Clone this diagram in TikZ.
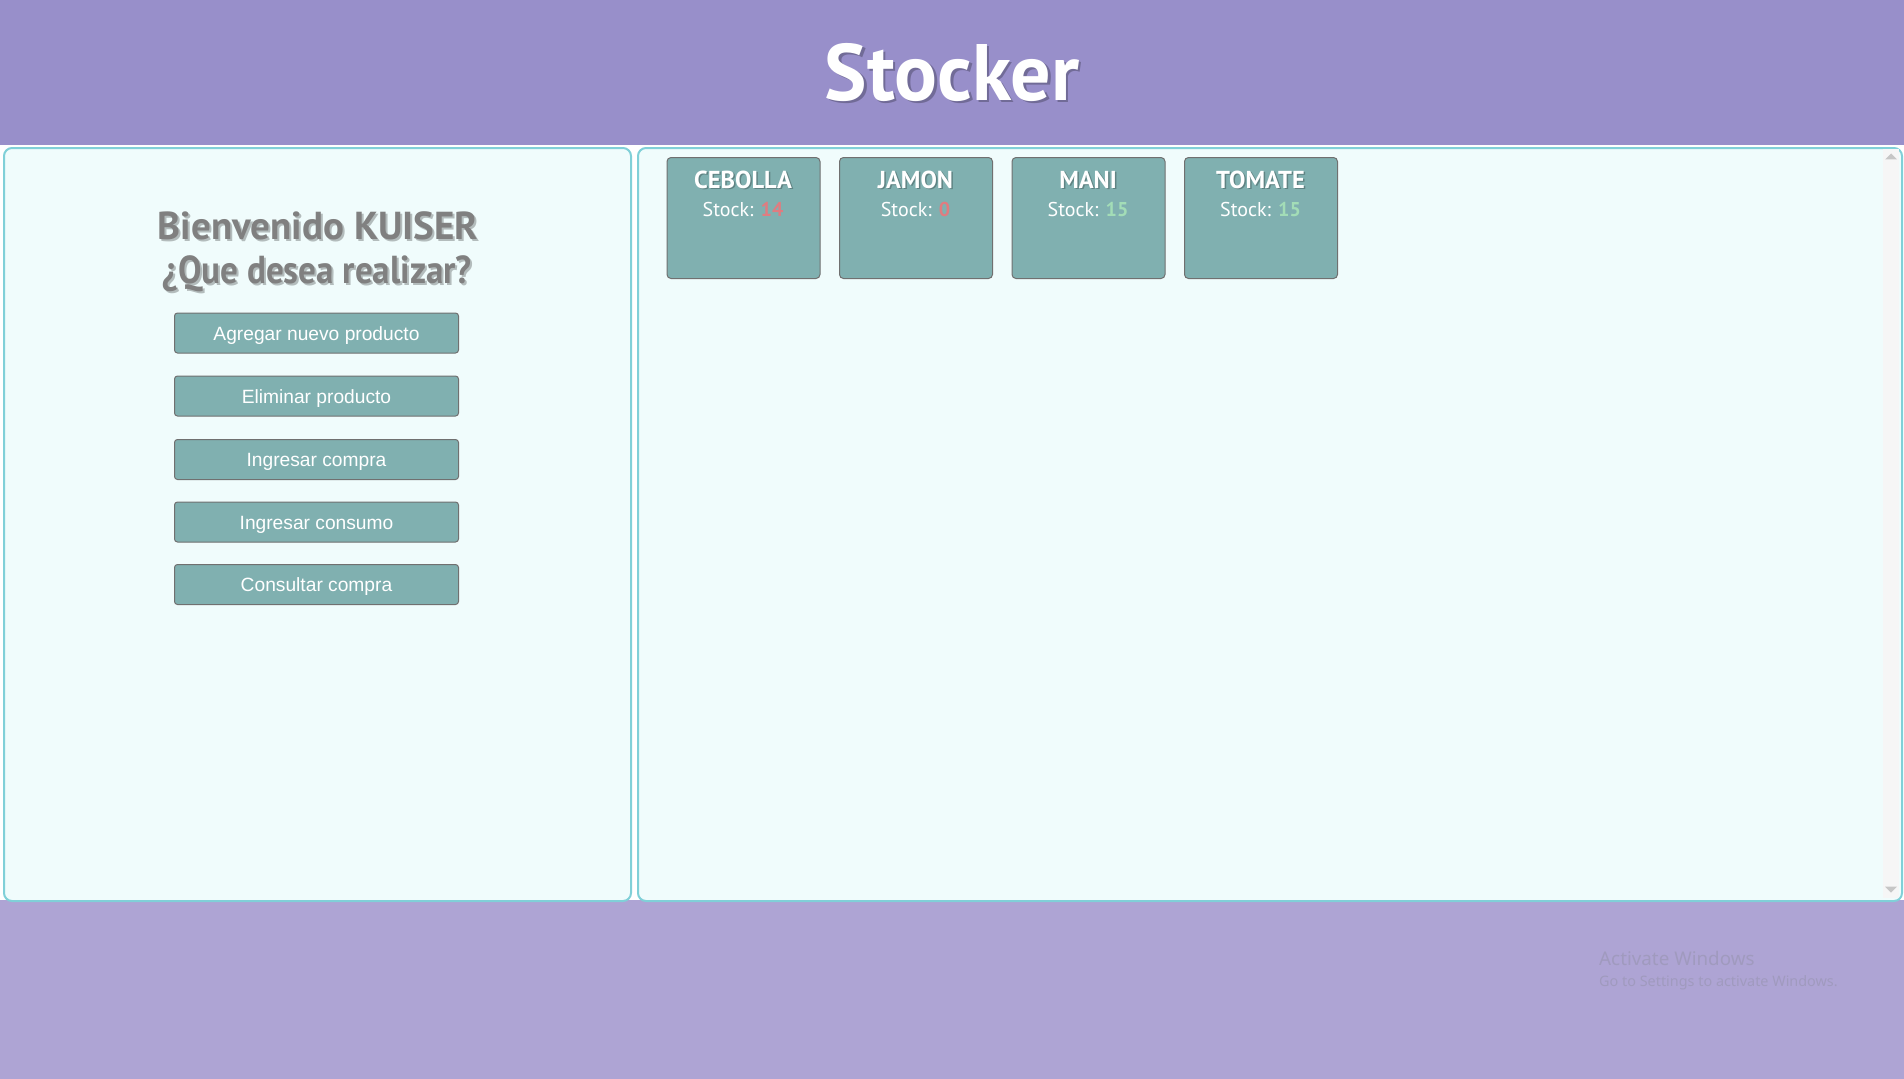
\documentclass[tikz,border=0pt]{standalone}
\usepackage{fontspec}
\setmainfont{Liberation Sans}
\newfontfamily\ptsans{PT Sans}
\newfontfamily\notos{Noto Sans}
\usetikzlibrary{shapes.geometric}
\definecolor{hdr}{RGB}{152,143,202}
\definecolor{bot}{RGB}{174,164,212}
\definecolor{panelfill}{RGB}{240,252,252}
\definecolor{panelline}{RGB}{128,208,216}
\definecolor{cardfill}{RGB}{128,176,176}
\definecolor{cardline}{RGB}{112,112,112}
\definecolor{numred}{RGB}{224,124,128}
\definecolor{numgreen}{RGB}{163,221,183}
\definecolor{greytext}{RGB}{128,128,128}
\definecolor{wmark}{RGB}{160,154,190}
\definecolor{track}{RGB}{246,246,246}
\begin{document}
\begin{tikzpicture}[x=1pt,y=-1pt,
  panel/.style={draw=panelline, line width=2pt, fill=panelfill, rounded corners=8pt, inner sep=0pt, anchor=north west},
  btn/.style={draw=cardline, line width=1pt, fill=cardfill, rounded corners=3pt, minimum width=284pt, minimum height=40pt, inner sep=0pt, text height=14pt, text depth=0pt, text=white, font=\fontsize{19.2}{22}\selectfont},
  card/.style={draw=cardline, line width=1pt, fill=cardfill, rounded corners=4pt, minimum width=153pt, minimum height=121pt, inner sep=0pt, anchor=north west},
  cardname/.style={anchor=base, inner sep=0pt, text=white, font=\ptsans\bfseries\fontsize{24.5}{28}\selectfont},
  cardstock/.style={anchor=base, inner sep=0pt, text=white, font=\ptsans\fontsize{20}{24}\selectfont},
  shade/.style={opacity=0.25, text=black},
  welcome/.style={anchor=base, inner sep=0pt, text=greytext, font=\ptsans\bfseries\fontsize{39}{44}\selectfont},
  arrowtri/.style={draw=none, fill=gray!45, isosceles triangle, isosceles triangle apex angle=90, minimum size=6pt, inner sep=0pt},
]
\useasboundingbox (0,0) rectangle (1904,1079);
\fill[hdr] (0,0) rectangle (1904,145);
\fill[white] (0,145) rectangle (1904,900);
\fill[bot] (0,900) rectangle (1904,1079);

% title
\node[anchor=base, inner sep=0pt, font=\ptsans\bfseries\fontsize{80}{84}\selectfont, shade] (titleS) at (954.5,102.5) {Stocker};
\node[anchor=base, inner sep=0pt, font=\ptsans\bfseries\fontsize{80}{84}\selectfont, text=white] (title) at (952,100) {Stocker};

% panels
\node[panel, minimum width=627pt, minimum height=753pt] (left) at (3,147) {};
\node[panel, minimum width=1264pt, minimum height=753pt] (right) at (637,147) {};
\fill[track] (1883,149) rectangle (1899,898);
\node[arrowtri, shape border rotate=90] (up) at (1891,157) {};
\node[arrowtri, shape border rotate=-90] (down) at (1891,889) {};

% welcome text
\node[welcome, shade] (w1S) at (320,241) {Bienvenido KUISER};
\node[welcome] (w1) at (318,239) {Bienvenido KUISER};
\node[welcome, shade] (w2S) at (319,285) {\scalebox{0.9}[1]{¿Que desea realizar?}};
\node[welcome] (w2) at (317,283) {\scalebox{0.9}[1]{¿Que desea realizar?}};

% buttons
\node[btn] (b1) at (316.5,333) {Agregar nuevo producto};
\node[btn] (b2) at (316.5,396) {Eliminar producto};
\node[btn] (b3) at (316.5,459.5) {Ingresar compra};
\node[btn] (b4) at (316.5,522) {Ingresar consumo};
\node[btn] (b5) at (316.5,584.5) {Consultar compra};

% cards
\node[card] (c1) at (666.5,157) {};
\node[card] (c2) at (839,157) {};
\node[card] (c3) at (1011.5,157) {};
\node[card] (c4) at (1184,157) {};

\node[cardname, shade] (n1S) at (744.5,189.5) {CEBOLLA};
\node[cardname] (n1) at (743,188) {CEBOLLA};
\node[cardname, shade] (n2S) at (917,189.5) {JAMON};
\node[cardname] (n2) at (915.5,188) {JAMON};
\node[cardname, shade] (n3S) at (1089.5,189.5) {MANI};
\node[cardname] (n3) at (1088,188) {MANI};
\node[cardname, shade] (n4S) at (1262,189.5) {TOMATE};
\node[cardname] (n4) at (1260.5,188) {TOMATE};

\node[cardstock] (s1) at (743,216) {Stock: \textcolor{numred}{\bfseries 14}};
\node[cardstock] (s2) at (915.5,216) {Stock: \textcolor{numred}{\bfseries 0}};
\node[cardstock] (s3) at (1088,216) {Stock: \textcolor{numgreen}{\bfseries 15}};
\node[cardstock] (s4) at (1260.5,216) {Stock: \textcolor{numgreen}{\bfseries 15}};

% watermark
\node[anchor=base west, inner sep=0pt, text=wmark, font=\notos\fontsize{18.8}{22}\selectfont] (wm1) at (1599,965) {Activate Windows};
\node[anchor=base west, inner sep=0pt, text=wmark, font=\notos\fontsize{14.4}{17}\selectfont] (wm2) at (1599,986) {Go to Settings to activate Windows.};
\end{tikzpicture}
\end{document}
